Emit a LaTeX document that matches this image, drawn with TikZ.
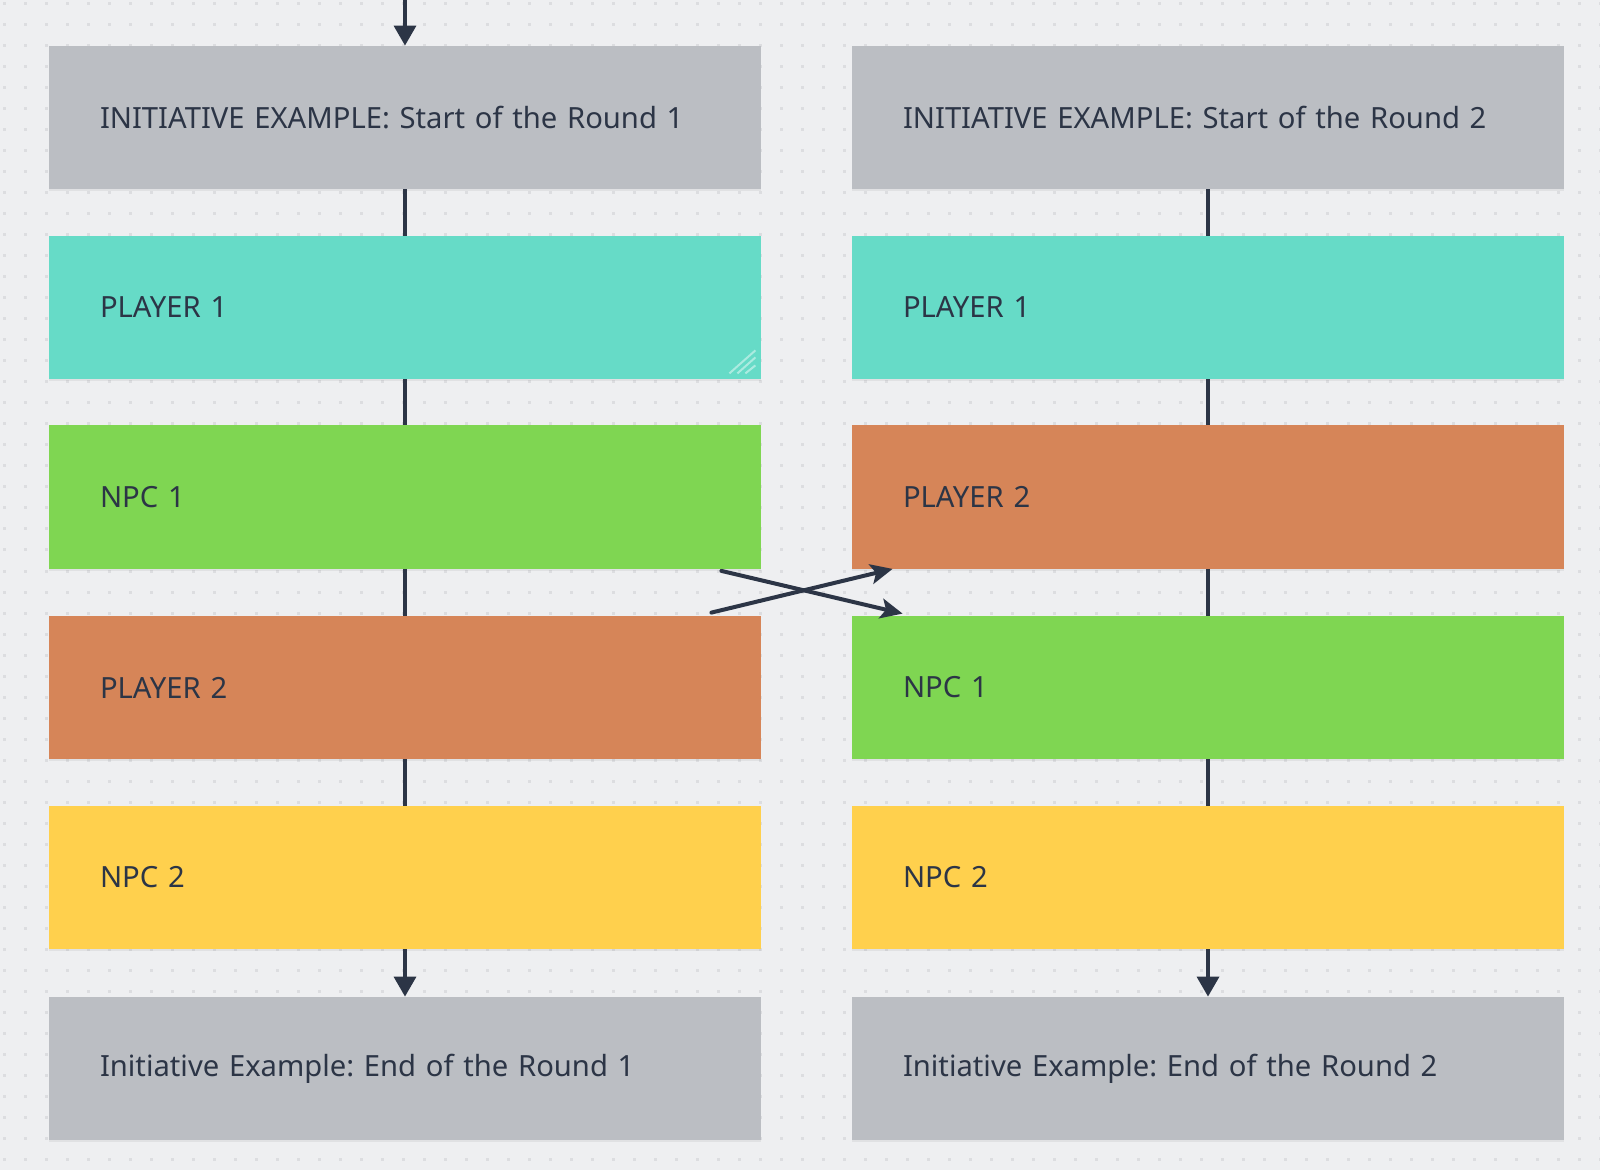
\documentclass[tikz,border=0pt]{standalone}
\usepackage{fontspec}
\setmainfont{Noto Sans}
\frenchspacing
\usetikzlibrary{arrows.meta,calc,shadows}
\definecolor{bgc}{HTML}{EEEFF1}
\definecolor{dotc}{HTML}{DCDDE0}
\definecolor{grayc}{HTML}{BBBEC3}
\definecolor{tealc}{HTML}{66DBC7}
\definecolor{greenc}{HTML}{7FD652}
\definecolor{orangec}{HTML}{D68558}
\definecolor{yellowc}{HTML}{FFD04D}
\definecolor{inkc}{HTML}{2C3546}
\tikzset{
  card/.style={rectangle, minimum width=356pt, minimum height=71.5pt, text width=305pt,
    inner xsep=25.5pt, inner ysep=0pt, align=left, text=inkc, font=\fontsize{14.6pt}{17pt}\selectfont,
    drop shadow={opacity=0.12, shadow xshift=0pt, shadow yshift=-1pt}},
  link/.style={draw=inkc, line width=1.75pt},
  flow/.style={link, -{Triangle[length=10pt,width=11pt]}},
  cross/.style={link, line width=2pt, line cap=round, -{Stealth[length=11pt,width=10pt,inset=2.5pt]}},
}
\begin{document}
\begin{tikzpicture}[x=0.5pt,y=-0.5pt]
\fill[bgc] (0,0) rectangle (1600,1170);
\useasboundingbox (0,0) rectangle (1600,1170);
\foreach \i in {0,...,76}{
  \foreach \j in {0,...,55}{
    \fill[dotc] ({4+21*\i-1.5},{4+21*\j-1.5}) rectangle ++(3,3);
  }
}
% left column
\node[card, fill=grayc]   (l1) at (405,117.5) {INITIATIVE EXAMPLE: Start of the Round 1};
\node[card, fill=tealc]   (l2) at (405,307.5) {PLAYER 1};
\node[card, fill=greenc]  (l3) at (405,497) {NPC 1};
\node[card, fill=orangec] (l4) at (405,687.5) {PLAYER 2};
\node[card, fill=yellowc] (l5) at (405,877.5) {NPC 2};
\node[card, fill=grayc]   (l6) at (405,1068.5) {Initiative Example: End of the Round 1};
% right column
\node[card, fill=grayc]   (r1) at (1208,117.5) {INITIATIVE EXAMPLE: Start of the Round 2};
\node[card, fill=tealc]   (r2) at (1208,307.5) {PLAYER 1};
\node[card, fill=orangec] (r3) at (1208,497) {PLAYER 2};
\node[card, fill=greenc]  (r4) at (1208,687.5) {NPC 1};
\node[card, fill=yellowc] (r5) at (1208,877.5) {NPC 2};
\node[card, fill=grayc]   (r6) at (1208,1068.5) {Initiative Example: End of the Round 2};
% resize handle
\begin{scope}[draw=white, opacity=0.45, line width=1pt]
\draw ($(l2.south east)+(-32,-6)$) -- ($(l2.south east)+(-6,-29)$);
\draw ($(l2.south east)+(-24,-6)$) -- ($(l2.south east)+(-6,-22)$);
\draw ($(l2.south east)+(-16,-6)$) -- ($(l2.south east)+(-6,-14)$);
\end{scope}
% connectors
\coordinate (top) at (405,0);
\draw[flow] (top) -- (l1.north);
\draw[link] (l1.south) -- (l2.north);
\draw[link] (l2.south) -- (l3.north);
\draw[link] (l3.south) -- (l4.north);
\draw[link] (l4.south) -- (l5.north);
\draw[flow] (l5.south) -- (l6.north);
\draw[link] (r1.south) -- (r2.north);
\draw[link] (r2.south) -- (r3.north);
\draw[link] (r3.south) -- (r4.north);
\draw[link] (r4.south) -- (r5.north);
\draw[flow] (r5.south) -- (r6.north);
% swaps
\draw[cross] ($(l3.south east)+(-40,2)$) -- ($(r4.north west)+(51,-2)$);
\draw[cross] ($(l4.north east)+(-50,-3)$) -- ($(r3.south west)+(41,0)$);
\end{tikzpicture}
\end{document}
